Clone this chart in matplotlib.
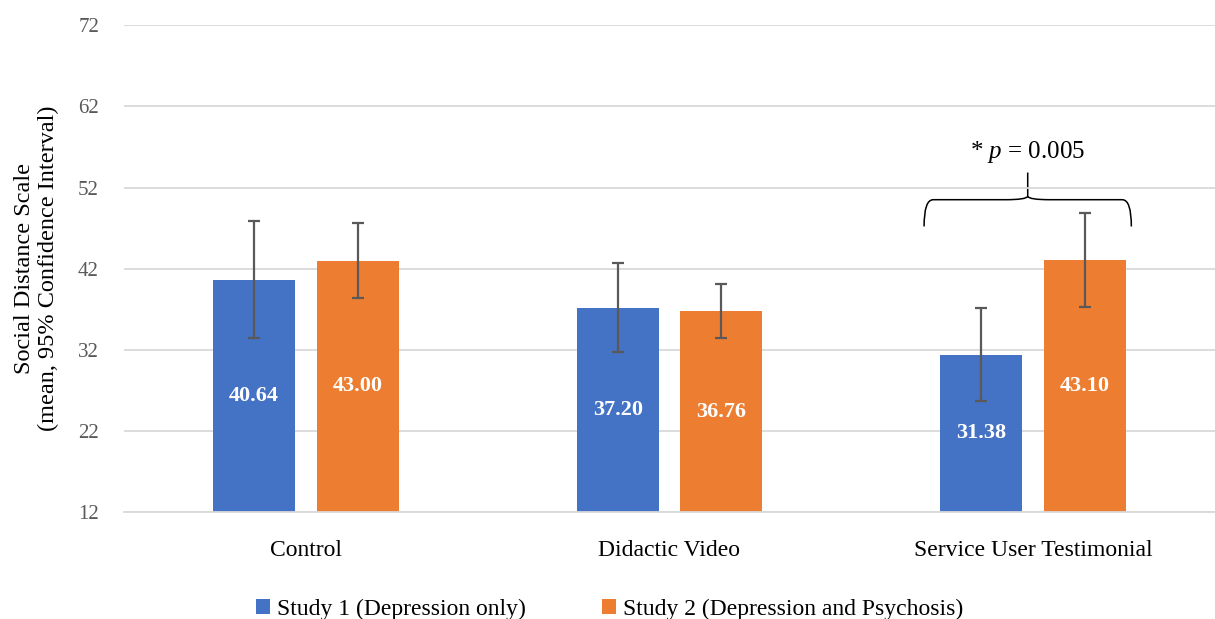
import numpy as np
import matplotlib.pyplot as plt
from matplotlib.path import Path
from matplotlib.patches import PathPatch

plt.rcParams['font.family'] = ['Liberation Serif', 'DejaVu Serif']
plt.rcParams['mathtext.fontset'] = 'custom'
plt.rcParams['mathtext.it'] = 'Liberation Serif:italic'
plt.rcParams['mathtext.rm'] = 'Liberation Serif'

categories = ["Control", "Didactic Video", "Service User Testimonial"]
study1 = [40.64, 37.20, 31.38]
study2 = [43.00, 36.76, 43.10]
study1_lo = [33.4, 31.7, 25.7]
study1_hi = [47.9, 42.7, 37.1]
study2_lo = [38.4, 33.4, 37.3]
study2_hi = [47.6, 40.1, 48.9]
yticks = [12, 22, 32, 42, 52, 62, 72]

blue = "#4472C4"
orange = "#ED7D31"
grey = "#595959"

fig = plt.figure(figsize=(12.15, 6.19), dpi=100)
ax = fig.add_axes([124/1215, 1 - 512/619, 1 - 124/1215, (512 - 25.3)/619])

x = np.arange(len(categories))
w = 0.225
off = 0.1425

s1 = np.array(study1)
s2 = np.array(study2)
err1 = [s1 - np.array(study1_lo), np.array(study1_hi) - s1]
err2 = [s2 - np.array(study2_lo), np.array(study2_hi) - s2]

ekw = dict(ecolor=grey, elinewidth=1.6, capsize=4.5, capthick=1.6, zorder=3)
ax.bar(x - off, s1 - 12, w, bottom=12, color=blue, label="Study 1 (Depression only)", zorder=2,
       yerr=err1, error_kw=ekw)
ax.bar(x + off, s2 - 12, w, bottom=12, color=orange, label="Study 2 (Depression and Psychosis)", zorder=2,
       yerr=err2, error_kw=ekw)

for xs, vals in [(x - off, study1), (x + off, study2)]:
    for xi, v in zip(xs, vals):
        ax.text(xi, (v + 12) / 2, f"{v:.2f}", ha="center", va="center", color="white",
                fontsize=16, fontweight="bold", zorder=4)

ax.set_xlim(-0.5, 2.5)
ax.set_ylim(12, 72)
ax.set_yticks(yticks)
ax.set_xticks(x)
ax.set_xticklabels(categories, fontsize=17)
ax.tick_params(axis="y", labelsize=15, labelcolor=grey, length=0, pad=18)
ax.tick_params(axis="x", length=0, pad=20)
ax.grid(axis="y", color="#D9D9D9", linewidth=1.3, zorder=0)
for s in ["top", "right", "left"]:
    ax.spines[s].set_visible(False)
ax.spines["bottom"].set_color("#D9D9D9")
ax.spines["bottom"].set_linewidth(1.3)

ax.set_ylabel("Social Distance Scale\n(mean, 95% Confidence Interval)", fontsize=17.5,
              labelpad=14, linespacing=1.15)

# curly brace over the third group
xl, xr = 2 - 0.3, 2 + 0.27
xm = 2 - 0.015
yb, yt, yc = 47.2, 50.5, 53.85
verts = [(xl, yb), (xl, yt), (xl + 0.025, yt), (xl + 0.06, yt),
         (xm - 0.06, yt), (xm - 0.005, yt), (xm, yt + 0.4), (xm, yc)]
codes = [Path.MOVETO, Path.CURVE3, Path.CURVE3, Path.LINETO,
         Path.LINETO, Path.CURVE3, Path.CURVE3, Path.LINETO]
verts2 = [(xr, yb), (xr, yt), (xr - 0.025, yt), (xr - 0.06, yt),
          (xm + 0.06, yt), (xm + 0.005, yt), (xm, yt + 0.4)]
codes2 = [Path.MOVETO, Path.CURVE3, Path.CURVE3, Path.LINETO,
          Path.LINETO, Path.CURVE3, Path.CURVE3]
for v, c in [(verts, codes), (verts2, codes2)]:
    ax.add_patch(PathPatch(Path(v, c), fill=False, edgecolor="black", linewidth=1.1, clip_on=False))
ax.text(xm, 56.4, "* $p$ = 0.005", ha="center", va="center", fontsize=18)

ax.legend(loc="upper center", bbox_to_anchor=(0.445, -0.135), ncol=2, frameon=False,
          fontsize=17, handlelength=0.6, handleheight=0.6, handletextpad=0.3, columnspacing=3.2)

plt.savefig("out.png", dpi=100)
